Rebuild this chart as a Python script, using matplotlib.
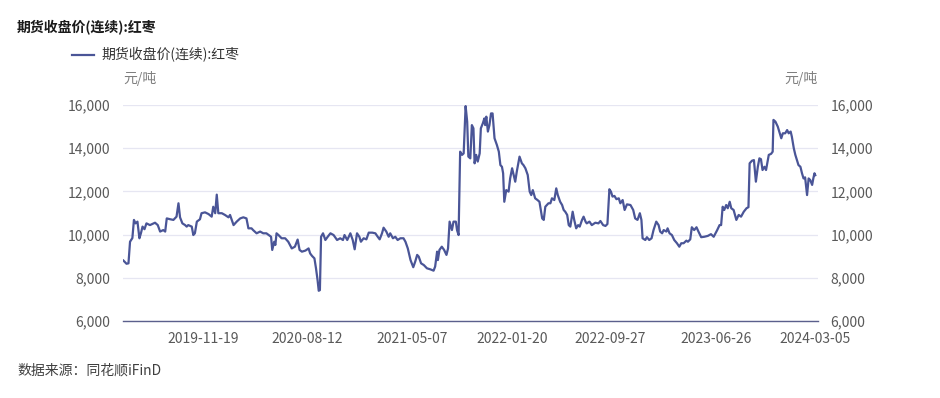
import matplotlib.pyplot as plt
import matplotlib.dates as mdates
import pandas as pd
from matplotlib.ticker import FuncFormatter

plt.rcParams["font.family"] = ["Noto Sans CJK SC", "DejaVu Sans"]

# 期货收盘价(连续):红枣, 元/吨
dates = [
    "2019-04-30", "2019-05-08", "2019-05-13", "2019-05-17", "2019-05-23", "2019-05-27", "2019-05-31",
    "2019-06-05", "2019-06-10", "2019-06-14", "2019-06-18", "2019-06-23", "2019-06-28", "2019-07-07",
    "2019-07-20", "2019-07-27", "2019-08-02", "2019-08-10", "2019-08-15", "2019-08-19", "2019-08-28",
    "2019-09-05", "2019-09-13", "2019-09-18", "2019-09-22", "2019-09-28", "2019-10-05", "2019-10-09",
    "2019-10-13", "2019-10-22", "2019-10-26", "2019-10-30", "2019-11-04", "2019-11-12", "2019-11-16",
    "2019-11-25", "2019-12-04", "2019-12-12", "2019-12-16", "2019-12-21", "2019-12-25", "2019-12-29",
    "2020-01-07", "2020-01-15", "2020-01-24", "2020-01-28", "2020-02-06", "2020-02-14", "2020-02-23",
    "2020-03-02", "2020-03-10", "2020-03-15", "2020-03-23", "2020-03-27", "2020-04-05", "2020-04-14",
    "2020-04-22", "2020-04-30", "2020-05-12", "2020-05-15", "2020-05-20", "2020-05-23", "2020-05-26",
    "2020-05-31", "2020-06-08", "2020-06-17", "2020-06-25", "2020-07-04", "2020-07-12", "2020-07-19",
    "2020-07-24", "2020-07-30", "2020-08-08", "2020-08-16", "2020-08-20", "2020-08-25", "2020-08-31",
    "2020-09-04", "2020-09-08", "2020-09-11", "2020-09-14", "2020-09-17", "2020-09-22", "2020-09-28",
    "2020-10-04", "2020-10-11", "2020-10-19", "2020-10-28", "2020-11-05", "2020-11-12", "2020-11-16",
    "2020-11-23", "2020-12-01", "2020-12-07", "2020-12-12", "2020-12-18", "2020-12-24", "2020-12-28",
    "2021-01-04", "2021-01-11", "2021-01-17", "2021-01-26", "2021-02-03", "2021-02-09", "2021-02-14",
    "2021-02-20", "2021-02-24", "2021-03-03", "2021-03-09", "2021-03-13", "2021-03-20", "2021-03-26",
    "2021-04-01", "2021-04-08", "2021-04-16", "2021-04-21", "2021-04-27", "2021-05-04", "2021-05-11",
    "2021-05-16", "2021-05-21", "2021-05-25", "2021-05-31", "2021-06-07", "2021-06-15", "2021-06-24",
    "2021-07-02", "2021-07-06", "2021-07-11", "2021-07-13", "2021-07-17", "2021-07-23", "2021-07-29",
    "2021-08-04", "2021-08-08", "2021-08-12", "2021-08-18", "2021-08-22", "2021-08-28", "2021-08-31",
    "2021-09-04", "2021-09-08", "2021-09-13", "2021-09-17", "2021-09-22", "2021-09-26", "2021-09-29",
    "2021-10-04", "2021-10-08", "2021-10-12", "2021-10-15", "2021-10-19", "2021-10-23", "2021-10-28",
    "2021-10-31", "2021-11-05", "2021-11-09", "2021-11-11", "2021-11-14", "2021-11-18", "2021-11-22",
    "2021-11-26", "2021-11-30", "2021-12-05", "2021-12-11", "2021-12-16", "2021-12-20", "2021-12-24",
    "2021-12-27", "2021-12-30", "2022-01-04", "2022-01-10", "2022-01-14", "2022-01-19", "2022-01-23",
    "2022-01-27", "2022-01-31", "2022-02-07", "2022-02-13", "2022-02-17", "2022-02-22", "2022-02-28",
    "2022-03-05", "2022-03-09", "2022-03-13", "2022-03-19", "2022-03-25", "2022-03-30", "2022-04-06",
    "2022-04-10", "2022-04-14", "2022-04-18", "2022-04-22", "2022-04-27", "2022-05-01", "2022-05-07",
    "2022-05-12", "2022-05-16", "2022-05-22", "2022-05-27", "2022-05-31", "2022-06-04", "2022-06-09",
    "2022-06-13", "2022-06-17", "2022-06-23", "2022-06-27", "2022-07-02", "2022-07-07", "2022-07-11",
    "2022-07-17", "2022-07-21", "2022-07-26", "2022-07-29", "2022-08-05", "2022-08-11", "2022-08-20",
    "2022-08-28", "2022-09-02", "2022-09-09", "2022-09-15", "2022-09-20", "2022-09-25", "2022-09-29",
    "2022-10-03", "2022-10-08", "2022-10-13", "2022-10-19", "2022-10-23", "2022-10-29", "2022-11-03",
    "2022-11-09", "2022-11-18", "2022-11-25", "2022-11-30", "2022-12-06", "2022-12-12", "2022-12-16",
    "2022-12-19", "2022-12-26", "2022-12-30", "2023-01-05", "2023-01-11", "2023-01-16", "2023-01-23",
    "2023-01-29", "2023-02-02", "2023-02-07", "2023-02-11", "2023-02-18", "2023-02-21", "2023-02-26",
    "2023-03-04", "2023-03-10", "2023-03-17", "2023-03-23", "2023-03-28", "2023-04-03", "2023-04-10",
    "2023-04-14", "2023-04-20", "2023-04-24", "2023-04-30", "2023-05-06", "2023-05-11", "2023-05-18",
    "2023-05-26", "2023-06-04", "2023-06-12", "2023-06-19", "2023-06-28", "2023-07-04", "2023-07-08",
    "2023-07-12", "2023-07-16", "2023-07-21", "2023-07-25", "2023-07-30", "2023-08-03", "2023-08-09",
    "2023-08-16", "2023-08-22", "2023-08-28", "2023-09-04", "2023-09-11", "2023-09-16", "2023-09-19",
    "2023-09-25", "2023-09-30", "2023-10-05", "2023-10-10", "2023-10-14", "2023-10-18", "2023-10-22",
    "2023-10-27", "2023-10-31", "2023-11-07", "2023-11-13", "2023-11-17", "2023-11-19", "2023-11-24",
    "2023-11-30", "2023-12-05", "2023-12-09", "2023-12-13", "2023-12-19", "2023-12-24", "2023-12-28",
    "2024-01-02", "2024-01-05", "2024-01-10", "2024-01-14", "2024-01-18", "2024-01-22", "2024-01-27",
    "2024-01-31", "2024-02-04", "2024-02-08", "2024-02-13", "2024-02-17", "2024-02-21", "2024-02-26",
    "2024-02-29", "2024-03-03", "2024-03-05",
]
prices = [
    8800, 8650, 8670, 9670, 9840, 10680, 10520,
    10600, 9830, 10070, 10370, 10250, 10520, 10440,
    10550, 10440, 10140, 10210, 10140, 10750, 10710,
    10680, 10830, 11450, 10800, 10520, 10440, 10370,
    10440, 10370, 9980, 10060, 10600, 10710, 10990,
    11030, 10950, 10830, 11290, 10990, 11850, 10990,
    10990, 10910, 10800, 10910, 10440, 10600, 10750,
    10800, 10750, 10290, 10290, 10210, 10060, 10140,
    10060, 10060, 9900, 9290, 9670, 9520, 10060,
    9980, 9830, 9830, 9670, 9360, 9440, 9770,
    9290, 9210, 9260, 9360, 9130, 9010, 8900,
    8440, 7900, 7400, 7430, 9900, 10060, 9750,
    9900, 10060, 9980, 9750, 9830, 9750, 9980,
    9750, 10060, 9750, 9320, 10060, 9900, 9670,
    9830, 9780, 10090, 10090, 10060, 9900, 9780,
    10060, 10320, 10140, 9900, 10060, 9830, 9900,
    9750, 9830, 9830, 9670, 9360, 8820, 8490,
    8750, 9060, 8980, 8670, 8590, 8440, 8390,
    8330, 8520, 9210, 8820, 9290, 9440, 9290,
    9060, 9360, 10600, 10210, 10600, 10600, 10210,
    9980, 13840, 13690, 13760, 15950, 15230, 13610,
    13530, 15070, 14920, 13300, 13690, 13380, 13760,
    14920, 15150, 15380, 15070, 15460, 14770, 15070,
    15610, 15610, 14460, 14150, 13840, 13220, 13140,
    12840, 11520, 12060, 11990, 12600, 13070, 12760,
    12450, 12920, 13610, 13300, 13220, 13070, 12760,
    11990, 11830, 12060, 11680, 11600, 11520, 10750,
    10680, 11290, 11370, 11450, 11450, 11680, 11600,
    12140, 11830, 11520, 11370, 11140, 11060, 10910,
    10440, 10370, 11060, 10680, 10290, 10440, 10370,
    10680, 10830, 10600, 10520, 10600, 10440, 10550,
    10520, 10630, 10440, 10400, 10490, 12100, 11990,
    11760, 11790, 11640, 11680, 11450, 11600, 11140,
    11400, 11370, 11140, 10750, 10680, 10990, 10680,
    9830, 9750, 9880, 9750, 9830, 10210, 10600,
    10440, 10140, 10060, 10210, 10140, 10290, 10060,
    9980, 9750, 9600, 9440, 9600, 9600, 9720,
    9670, 9780, 10340, 10210, 10340, 10140, 9880,
    9900, 9940, 10020, 9900, 10210, 10440, 10440,
    11290, 11140, 11370, 11220, 11520, 11220, 11140,
    10680, 10910, 10830, 11060, 11220, 11270, 13300,
    13420, 13450, 12450, 13140, 13530, 13490, 12990,
    13140, 12990, 13690, 13740, 13840, 15310, 15230,
    15000, 14690, 14460, 14690, 14690, 14840, 14690,
    14770, 14540, 14000, 13690, 13450, 13220, 13140,
    12840, 12600, 12650, 11830, 12600, 12530, 12300,
    12600, 12840, 12750,
]
tick_dates = ["2019-11-19", "2020-08-12", "2021-05-07", "2022-01-20",
              "2022-09-27", "2023-06-26", "2024-03-05"]
y_ticks = [6000, 8000, 10000, 12000, 14000, 16000]

series_name = "期货收盘价(连续):红枣"
unit = "元/吨"
source = "数据来源：同花顺iFinD"

line_color = "#4a5597"
text_color = "#595959"

x = pd.to_datetime(dates)
ticks = pd.to_datetime(tick_dates)

fig = plt.figure(figsize=(9.4, 3.98), dpi=100)
ax = fig.add_axes([123 / 940, 1 - 321 / 398, (818 - 123) / 940, (321 - 105) / 398])

ax.plot(x, prices, color=line_color, linewidth=1.6, label=series_name, zorder=3)

ax.set_ylim(6000, 16000)
ax.set_yticks(y_ticks)
ax.yaxis.set_major_formatter(FuncFormatter(lambda v, _: f"{v:,.0f}"))
ax.set_xlim(pd.Timestamp("2019-04-29"), pd.Timestamp("2024-03-12"))
ax.set_xticks(ticks)
ax.set_xticklabels(tick_dates)

ax.grid(axis="y", color="#e6e6f2", linewidth=0.9)
ax.set_axisbelow(True)
for side in ["top", "left", "right"]:
    ax.spines[side].set_visible(False)
ax.spines["bottom"].set_color("#5b5f8c")
ax.spines["bottom"].set_linewidth(1.0)
ax.spines["bottom"].set_zorder(4)

ax.tick_params(axis="both", length=0, labelsize=10, labelcolor=text_color)
ax.tick_params(axis="y", labelright=True, pad=9)
ax.tick_params(axis="x", pad=8)

fig.text(17 / 940, 1 - 28 / 398, series_name, fontsize=10, fontweight="bold",
         color="#1a1a1a", va="center", ha="left")

leg = fig.legend(loc="center left", bbox_to_anchor=(72 / 940, 1 - 55 / 398), frameon=False,
                 fontsize=10, handlelength=1.6, handletextpad=0.5, borderaxespad=0, borderpad=0)
for t in leg.get_texts():
    t.set_color("#333333")

fig.text(123 / 940, 1 - 78 / 398, unit, fontsize=10, color="#7f7f7f", va="center", ha="left")
fig.text(818 / 940, 1 - 78 / 398, unit, fontsize=10, color="#7f7f7f", va="center", ha="right")
fig.text(17 / 940, 1 - 371 / 398, source, fontsize=10, color="#404040", va="center", ha="left")

fig.savefig("out.png", dpi=100)
